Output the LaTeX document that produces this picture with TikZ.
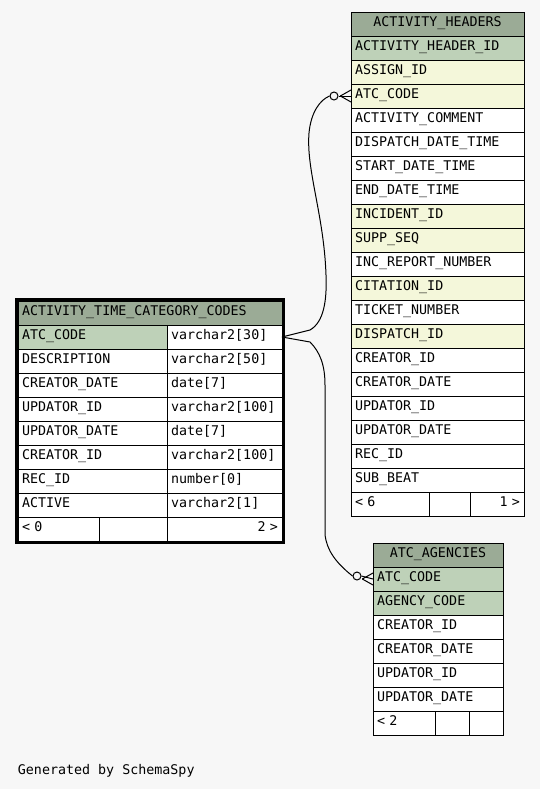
\documentclass[tikz,border=0pt]{standalone}
\usepackage{fontspec}
\setmonofont{DejaVu Sans Mono}
\usetikzlibrary{positioning}

\definecolor{bg}{HTML}{F7F7F7}
\definecolor{head}{HTML}{9BAB96}
\definecolor{pk}{HTML}{BED1B8}
\definecolor{fk}{HTML}{F4F7DA}

\tikzset{
  cell/.style={draw, fill=white, anchor=north west, minimum height=18pt,
    inner xsep=3pt, inner ysep=0pt, outer sep=0pt, text width=#1*0.75pt-6pt,
    align=left, text height=7.3pt, text depth=3pt, font=\ttfamily},
  cellr/.style={cell=#1, align=right},
  hd/.style={cell=#1, fill=head, align=center},
  ring/.style={circle, draw, fill=bg, minimum size=6pt, inner sep=0pt}
}

\begin{document}
\begin{tikzpicture}[x=0.75pt, y=-0.75pt, line width=0.75pt]
  \fill[bg] (0,0) rectangle (540,789);
  \useasboundingbox (0,0) rectangle (540,789);

  % ACTIVITY_HEADERS
  \node[hd=173] (ah-h) at (351,12) {ACTIVITY\_HEADERS};
  \foreach \n/\f [count=\i from 0] in {
      ACTIVITY\_HEADER\_ID/pk, ASSIGN\_ID/fk, ATC\_CODE/fk,
      ACTIVITY\_COMMENT/white, DISPATCH\_DATE\_TIME/white,
      START\_DATE\_TIME/white, END\_DATE\_TIME/white, INCIDENT\_ID/fk,
      SUPP\_SEQ/fk, INC\_REPORT\_NUMBER/white, CITATION\_ID/fk,
      TICKET\_NUMBER/white, DISPATCH\_ID/fk, CREATOR\_ID/white,
      CREATOR\_DATE/white, UPDATOR\_ID/white, UPDATOR\_DATE/white,
      REC\_ID/white, SUB\_BEAT/white}
    \node[cell=173, fill=\f] (ah-\i) at (351,36+24*\i) {\n};
  \node[cell=78] (ah-f1) at (351,492) {< 6};
  \node[cell=41] (ah-f2) at (429,492) {};
  \node[cellr=54] (ah-f3) at (470,492) {1 >};

  % ACTIVITY_TIME_CATEGORY_CODES
  \node[cell=264, fill=head] (atc-h) at (18,301) {ACTIVITY\_TIME\_CATEGORY\_CODES};
  \foreach \n/\t/\f [count=\i from 0] in {
      ATC\_CODE/varchar2[30]/pk, DESCRIPTION/varchar2[50]/white,
      CREATOR\_DATE/date[7]/white, UPDATOR\_ID/varchar2[100]/white,
      UPDATOR\_DATE/date[7]/white, CREATOR\_ID/varchar2[100]/white,
      REC\_ID/number[0]/white, ACTIVE/varchar2[1]/white}
  {
    \node[cell=149, fill=\f] (atc-\i) at (18,325+24*\i) {\n};
    \node[cell=115] (atct-\i) at (167,325+24*\i) {\t};
  }
  \node[cell=81] (atc-f1) at (18,517) {< 0};
  \node[cell=68] (atc-f2) at (99,517) {};
  \node[cellr=115] (atc-f3) at (167,517) {2 >};
  \draw[line width=2.25pt] (16.5,299.5) rectangle (283.5,542.5);

  % ATC_AGENCIES
  \node[hd=130] (ag-h) at (373,543) {ATC\_AGENCIES};
  \foreach \n/\f [count=\i from 0] in {
      ATC\_CODE/pk, AGENCY\_CODE/pk, CREATOR\_ID/white,
      CREATOR\_DATE/white, UPDATOR\_ID/white, UPDATOR\_DATE/white}
    \node[cell=130, fill=\f] (ag-\i) at (373,567+24*\i) {\n};
  \node[cell=62] (ag-f1) at (373,711) {< 2};
  \node[cell=34] (ag-f2) at (435,711) {};
  \node[cell=34] (ag-f3) at (469,711) {};

  % relationships
  \node[ring] (o1) at (334,96) {};
  \node[ring] (o2) at (357,576) {};
  \draw (atct-0.east) -- (310,330) .. controls (324,322) and (327,300) .. (326,275)
    .. controls (324,215) and (306,170) .. (309,133)
    .. controls (311,112) and (320,100) .. (o1.west);
  \draw (atct-0.east) -- (310,342) .. controls (320,352) and (325,365) .. (325,385)
    -- (325,535) .. controls (327,550) and (335,562) .. (o2.west);
  \draw (o1.east) -- (ah-2.west);
  \draw ([xshift=-8pt]ah-2.west) -- ([yshift=4.5pt]ah-2.west);
  \draw ([xshift=-8pt]ah-2.west) -- ([yshift=-4.5pt]ah-2.west);
  \draw (o2.east) -- (ag-0.west);
  \draw ([xshift=-8pt]ag-0.west) -- ([yshift=4.5pt]ag-0.west);
  \draw ([xshift=-8pt]ag-0.west) -- ([yshift=-4.5pt]ag-0.west);

  \node[anchor=west, font=\ttfamily] (gen) at (13,771) {Generated by SchemaSpy};
\end{tikzpicture}
\end{document}
